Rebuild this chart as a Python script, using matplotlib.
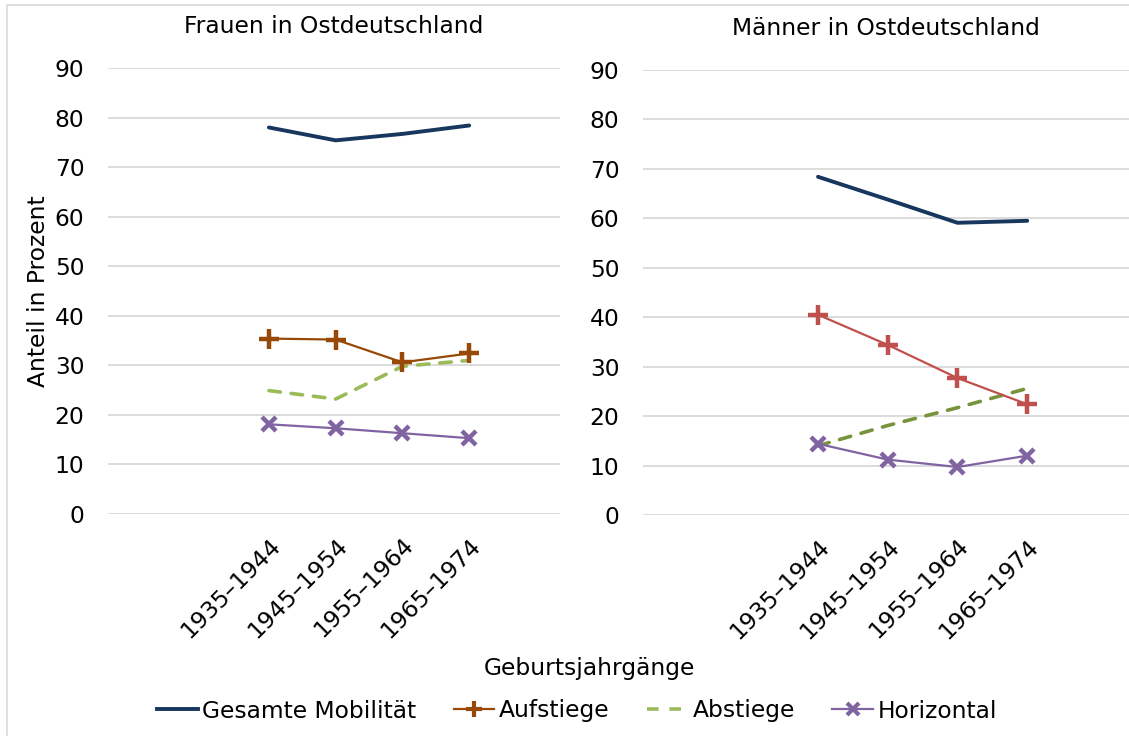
import matplotlib
matplotlib.use("Agg")
import matplotlib.pyplot as plt
from matplotlib.lines import Line2D
from matplotlib.patches import Rectangle

plt.rcParams['font.family'] = ['DejaVu Sans']

categories = ["1935–1944", "1945–1954", "1955–1964", "1965–1974"]
series_names = ["Gesamte Mobilität", "Aufstiege", "Abstiege", "Horizontal"]

frauen_gesamt = [78.0, 75.4, 76.7, 78.4]
frauen_auf = [35.4, 35.2, 30.6, 32.4]
frauen_ab = [24.9, 23.2, 29.8, 31.0]
frauen_hor = [18.1, 17.3, 16.3, 15.3]

maenner_gesamt = [68.4, 63.8, 59.1, 59.5]
maenner_auf = [40.5, 34.4, 27.7, 22.4]
maenner_ab = [14.0, 18.1, 21.7, 25.6]
maenner_hor = [14.4, 11.2, 9.7, 12.0]

titles = ["Frauen in Ostdeutschland", "Männer in Ostdeutschland"]

navy = "#17375E"
purple = "#8064A2"
left_auf, left_ab = "#984807", "#9BBB59"
right_auf, right_ab = "#C0504D", "#77933C"

FS = 16.8
W, H = 1129, 736
fig = plt.figure(figsize=(W / 100, H / 100), dpi=100)

# outer frame
fig.patches.append(Rectangle((7 / W, -0.1), 1.2, 1.1 - 5 / H, transform=fig.transFigure,
                             fill=False, edgecolor="#d9d9d9", linewidth=1.2))

def px_axes(x0, x1, ytop, ybot):
    return fig.add_axes([x0 / W, 1 - ybot / H, (x1 - x0) / W, (ybot - ytop) / H])

ax1 = px_axes(108, 560, 68, 514)
ax2 = px_axes(643, 1129, 70, 515)

panels = [
    (ax1, frauen_gesamt, frauen_auf, frauen_ab, frauen_hor, left_auf, left_ab, (-2.41, 4.36)),
    (ax2, maenner_gesamt, maenner_auf, maenner_ab, maenner_hor, right_auf, right_ab, (-2.51, 4.46)),
]

xs = list(range(len(categories)))
for i, (ax, g, a, b, h, ca, cb, xl) in enumerate(panels):
    ax.plot(xs, g, color=navy, lw=2.8, solid_capstyle="round", solid_joinstyle="round", zorder=3)
    ax.plot(xs, a, color=ca, lw=1.6, marker="+", markersize=14, mew=3.2, zorder=4)
    ax.plot(xs, b, color=cb, lw=2.6, dashes=(3.2, 3.0), dash_capstyle="round", zorder=3)
    ax.plot(xs, h, color=purple, lw=1.6, marker="x", markersize=10, mew=3.2, zorder=4)
    ax.set_xlim(*xl)
    ax.set_ylim(0, 90)
    ax.set_yticks(range(0, 91, 10))
    ax.grid(axis="y", color="#d9d9d9", lw=1.3)
    ax.set_axisbelow(True)
    for s in ax.spines.values():
        s.set_visible(False)
    ax.tick_params(axis="y", length=0, pad=17, labelsize=FS)
    ax.tick_params(axis="x", length=0, pad=14, labelsize=FS)
    ax.set_xticks(xs)
    ax.set_xticklabels(categories, rotation=45, ha="right", rotation_mode="anchor")
    ax.set_title(titles[i], fontsize=FS, pad=25)
    for ln in ax.lines:
        ln.set_clip_on(False)

ax1.set_ylabel("Anteil in Prozent", fontsize=FS, labelpad=3.5)
fig.text(589 / W, 1 - 668 / H, "Geburtsjahrgänge", ha="center", va="center", fontsize=FS)

handles = [
    Line2D([], [], color=navy, lw=2.8),
    Line2D([], [], color=left_auf, lw=1.6, marker="+", markersize=12, mew=3),
    Line2D([], [], color=left_ab, lw=2.6, dashes=(3.2, 3.0)),
    Line2D([], [], color=purple, lw=1.6, marker="x", markersize=9, mew=3),
]
fig.legend(handles, series_names, loc="center", bbox_to_anchor=(577 / W, 1 - 711 / H),
           ncol=4, frameon=False, fontsize=FS, handlelength=1.75, handletextpad=0.2,
           columnspacing=1.6)

fig.savefig("out.png", dpi=100)
